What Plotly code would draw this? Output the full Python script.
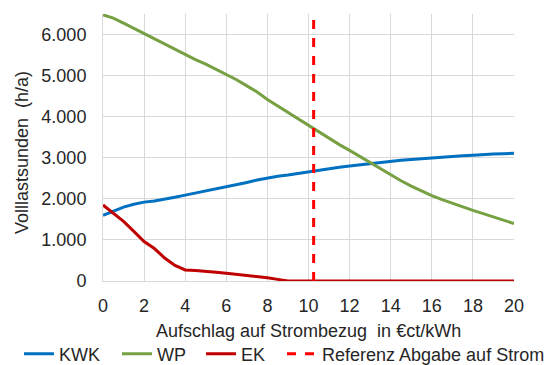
import plotly.graph_objects as go

# Aufschlag auf Strombezug (€ct/kWh)
x_vals = [0, 0.5, 1, 1.5, 2, 2.5, 3, 3.5, 4, 4.5, 5, 5.5, 6, 6.5, 7, 7.5, 8, 8.5, 9,
          9.5, 10, 10.5, 11, 11.5, 12, 12.5, 13, 13.5, 14, 14.5, 15, 15.5, 16, 16.5,
          17, 17.5, 18, 18.5, 19, 19.5, 20]

# Volllaststunden (h/a)
kwk = [1600, 1710, 1800, 1870, 1920, 1950, 1990, 2040, 2090, 2140, 2190, 2240, 2290, 2340,
       2400, 2460, 2510, 2550, 2580, 2620, 2650, 2690, 2730, 2770, 2800, 2830, 2860, 2890,
       2910, 2940, 2960, 2980, 3000, 3020, 3040, 3050, 3060, 3080, 3090, 3100, 3110]
wp = [6480, 6400, 6280, 6150, 6030, 5910, 5780, 5640, 5500, 5390, 5280, 5160, 5040, 4900,
      4750, 4600, 4420, 4260, 4100, 3950, 3790, 3630, 3470, 3320, 3180, 3030, 2880, 2720,
      2570, 2440, 2310, 2190, 2080, 1980, 1890, 1800, 1720, 1640, 1560, 1480, 1400]
ek = [1850, 1660, 1450, 1210, 960, 790, 560, 380, 270, 255, 240, 215, 190, 165,
      140, 110, 80, 40, 0, 0, 0, 0, 0, 0, 0, 0, 0, 0,
      0, 0, 0, 0, 0, 0, 0, 0, 0, 0, 0, 0, 0]

referenz_x = 10.25
y_max = 6500

x_ticks = list(range(0, 21, 2))
y_ticks = list(range(0, 7000, 1000))

x_title = "Aufschlag auf Strombezug  in €ct/kWh"
y_title = "Volllastsunden  (h/a)"

font_family = "Liberation Sans, Arial, sans-serif"
W, H = 549, 365

series = [
    ("KWK", x_vals, kwk, dict(color="#0070C0", width=3), "legend"),
    ("WP", x_vals, wp, dict(color="#77A043", width=3), "legend2"),
    ("EK", x_vals, ek, dict(color="#C00000", width=3), "legend3"),
    ("Referenz Abgabe auf Strom", [referenz_x, referenz_x], [0, y_max],
     dict(color="#FF0000", width=3, dash="dash"), "legend4"),
]

fig = go.Figure()
for name, xs, ys, line, lg in series:
    fig.add_trace(go.Scatter(x=xs, y=ys, mode="lines", name=name, line=line, legend=lg))

# one legend per entry so the row spreads across the full width
legend_x_px = {"legend": 19, "legend2": 117, "legend3": 201, "legend4": 282}
legend_common = dict(orientation="h", xref="container", yref="container",
                     xanchor="left", yanchor="middle", y=(H - 354) / H,
                     font=dict(size=18), itemwidth=30, bgcolor="rgba(0,0,0,0)",
                     borderwidth=0)
legend_layout = {k: dict(x=v / W, **legend_common) for k, v in legend_x_px.items()}

fig.update_layout(
    width=W, height=H,
    margin=dict(l=103, r=35, t=14, b=84, autoexpand=False),
    paper_bgcolor="white", plot_bgcolor="white",
    font=dict(family=font_family, size=18, color="#262626"),
    separators=",.",
    showlegend=True,
    xaxis=dict(range=[0, 20], tickvals=x_ticks, showgrid=True, gridcolor="#D9D9D9",
               gridwidth=1, zeroline=False, showline=True, linecolor="#D9D9D9",
               ticks="outside", ticklen=8, tickcolor="rgba(0,0,0,0)",
               tickfont=dict(size=18), automargin=False),
    yaxis=dict(range=[0, y_max], tickvals=y_ticks, tickformat=",d", showgrid=True,
               gridcolor="#D9D9D9", gridwidth=1, zeroline=False, showline=True,
               linecolor="#D9D9D9", ticks="outside", ticklen=12,
               tickcolor="rgba(0,0,0,0)", tickfont=dict(size=18), automargin=False),
    annotations=[
        dict(text=x_title, xref="paper", yref="paper", x=0.5, y=-(331 - 281) / (281 - 14),
             xanchor="center", yanchor="middle", showarrow=False, font=dict(size=18)),
        dict(text=y_title, xref="paper", yref="paper", x=-(103 - 22) / (514 - 103),
             y=(281 - 153) / (281 - 14), xanchor="center", yanchor="middle",
             textangle=-90, showarrow=False, font=dict(size=18)),
    ],
    **legend_layout,
)

fig.write_html("out.html")
